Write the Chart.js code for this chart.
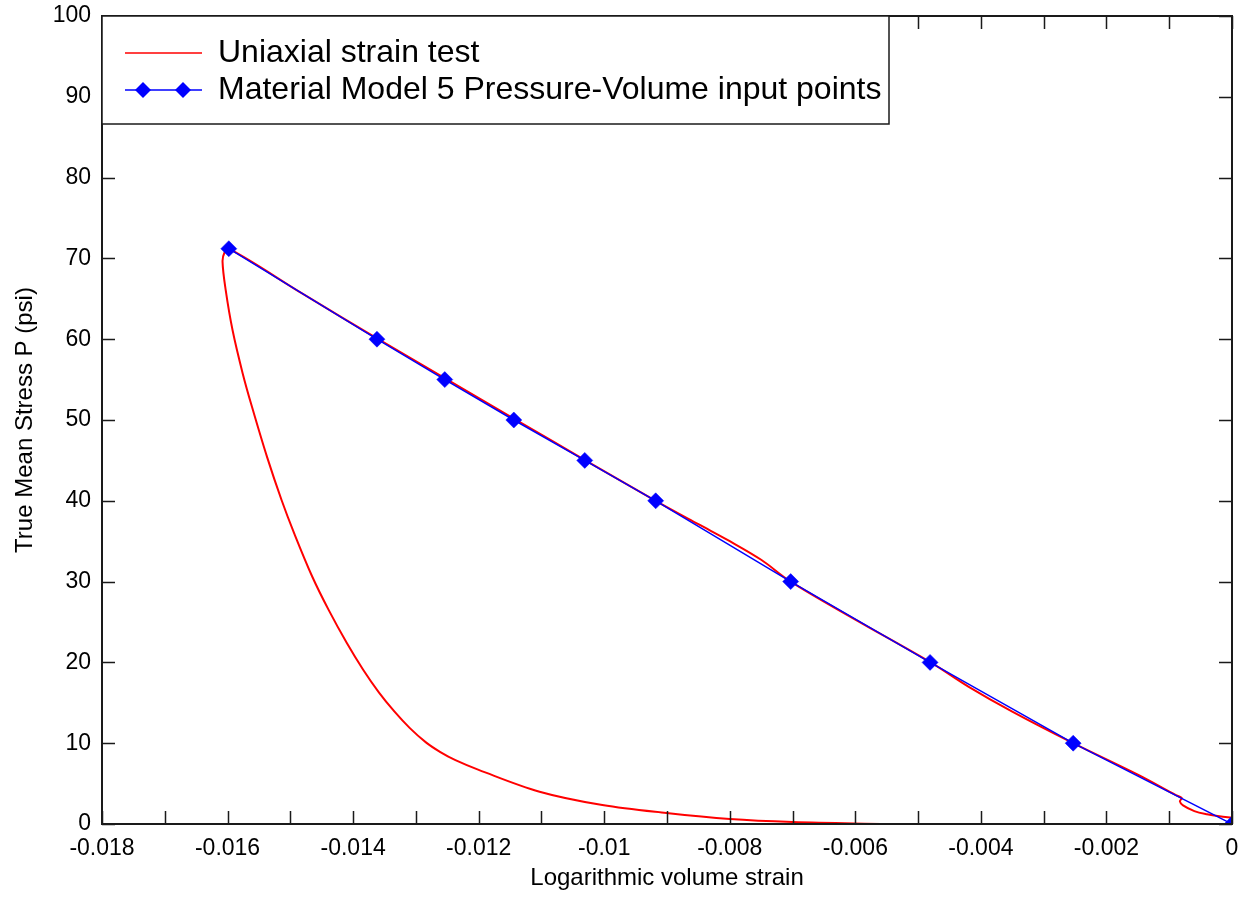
<!DOCTYPE html>
<html>
<head>
<meta charset="utf-8">
<script src="https://cdn.jsdelivr.net/npm/chart.js@4.4.1/dist/chart.umd.min.js"></script>
<style>
  html, body { margin: 0; padding: 0; background: #fff; }
</style>
</head>
<body>
<canvas id="pv" width="1248" height="897"></canvas>
<script>
// uniaxial strain test: loading branch then unloading branch
let testStrain = [0, -0.0002, -0.0004, -0.0006, -0.00078, -0.00083, -0.0008, -0.0009,
  -0.0015, -0.00253, -0.0035, -0.0042, -0.0048, -0.006, -0.00703, -0.0075, -0.008, -0.0085,
  -0.00918, -0.0103, -0.0114, -0.0125, -0.0136, -0.0148, -0.01598,
  -0.01605, -0.01608, -0.01603, -0.01592, -0.01576, -0.01561, -0.01537, -0.01514, -0.01494, -0.01465,
  -0.01439, -0.0141, -0.01384, -0.01359, -0.01334, -0.0131, -0.01284, -0.01261, -0.01237,
  -0.012, -0.01103, -0.01003, -0.00901, -0.008, -0.007, -0.0055];
let testStress = [0.8, 0.95, 1.2, 1.6, 2.3, 2.8, 3.2, 3.6,
  6.1, 10, 13.9, 17.0, 20, 25.3, 30, 32.7, 35.0, 37.1,
  40, 45, 50, 55, 60, 65.6, 71.2,
  70.7, 69.6, 66.1, 61.1, 55.8, 51.6, 45.4, 40.1, 36.0, 30.6,
  26.5, 22.4, 19.1, 16.3, 13.9, 11.9, 10.1, 8.9, 7.9,
  6.7, 4.0, 2.35, 1.36, 0.62, 0.25, 0];

// Material Model 5 pressure-volume input points
let modelStrain = [0, -0.00253, -0.00481, -0.00703, -0.00918, -0.01031, -0.01144, -0.01254, -0.01362, -0.01598];
let modelStress = [0, 10, 20, 30, 40, 45, 50, 55, 60, 71.2];

let xTicks = [-0.018, -0.016, -0.014, -0.012, -0.01, -0.008, -0.006, -0.004, -0.002, 0];
let yTicks = [0, 10, 20, 30, 40, 50, 60, 70, 80, 90, 100];

let fontName = '"Liberation Sans", Arial, sans-serif';

function pts(xs, ys) {
    return xs.map(function (x, i) { return {x: x, y: ys[i]}; });
}

// frame with inward ticks on all sides + legend box
let framePlugin = {
    id: 'frame',
    afterDraw: function (chart) {
        let ctx = chart.ctx;
        let a = chart.chartArea;
        let xs = chart.scales.x;
        let ys = chart.scales.y;
        ctx.save();
        ctx.strokeStyle = '#1a1a1a';
        ctx.lineWidth = 1.5;
        ctx.beginPath();
        for (let v = -0.018; v <= 0.00001; v += 0.001) {
            let px = Math.round(xs.getPixelForValue(v)) + 0.5;
            ctx.moveTo(px, a.bottom); ctx.lineTo(px, a.bottom - 13);
            ctx.moveTo(px, a.top); ctx.lineTo(px, a.top + 13);
        }
        yTicks.forEach(function (v) {
            let py = Math.round(ys.getPixelForValue(v)) + 0.5;
            ctx.moveTo(a.left, py); ctx.lineTo(a.left + 13, py);
            ctx.moveTo(a.right, py); ctx.lineTo(a.right - 13, py);
        });
        ctx.stroke();
        ctx.lineWidth = 2;
        ctx.strokeRect(a.left, a.top, a.right - a.left, a.bottom - a.top);

        // legend
        let lw = 787, lh = 108;
        ctx.fillStyle = '#fff';
        ctx.fillRect(a.left, a.top, lw, lh);
        ctx.lineWidth = 1.5;
        ctx.strokeRect(a.left, a.top, lw, lh);
        let y1 = a.top + 37, y2 = a.top + 74;
        ctx.strokeStyle = '#ff0000';
        ctx.lineWidth = 1.5;
        ctx.beginPath(); ctx.moveTo(a.left + 23, y1); ctx.lineTo(a.left + 100, y1); ctx.stroke();
        ctx.strokeStyle = '#0000ff';
        ctx.beginPath(); ctx.moveTo(a.left + 23, y2); ctx.lineTo(a.left + 100, y2); ctx.stroke();
        ctx.fillStyle = '#0000ff';
        [a.left + 41, a.left + 81].forEach(function (cx) {
            ctx.beginPath();
            ctx.moveTo(cx, y2 - 8); ctx.lineTo(cx + 8, y2); ctx.lineTo(cx, y2 + 8); ctx.lineTo(cx - 8, y2);
            ctx.closePath(); ctx.fill();
        });
        ctx.fillStyle = '#000';
        ctx.font = '32px ' + fontName;
        ctx.textBaseline = 'middle';
        ctx.fillText('Uniaxial strain test', a.left + 116, y1);
        ctx.fillText('Material Model 5 Pressure-Volume input points', a.left + 116, y2);
        ctx.restore();
    }
};

new Chart(document.getElementById('pv'), {
    type: 'scatter',
    data: {
        datasets: [{
            label: 'Uniaxial strain test',
            data: pts(testStrain, testStress),
            showLine: true,
            borderColor: '#ff0000',
            borderWidth: 2,
            pointRadius: 0,
            tension: 0.35,
            order: 2
        }, {
            label: 'Material Model 5 Pressure-Volume input points',
            data: pts(modelStrain, modelStress),
            showLine: true,
            borderColor: '#0000ff',
            backgroundColor: '#0000ff',
            borderWidth: 1.5,
            pointStyle: 'rectRot',
            pointRadius: 8,
            pointBorderWidth: 0.5,
            order: 1
        }]
    },
    options: {
        responsive: false,
        animation: false,
        layout: { padding: { top: 16, right: 16, left: 0, bottom: 0 } },
        plugins: { legend: { display: false }, tooltip: { enabled: false } },
        scales: {
            x: {
                type: 'linear',
                min: -0.018,
                max: 0,
                afterBuildTicks: function (s) { s.ticks = xTicks.map(function (v) { return {value: v}; }); },
                afterFit: function (s) { s.height = 73; s.paddingLeft = 0; s.paddingRight = 0; },
                ticks: {
                    color: '#000',
                    font: { family: fontName, size: 23 },
                    padding: 11,
                    maxRotation: 0,
                    callback: function (v) { let t = Number(v.toFixed(3)); return t === 0 ? '0' : String(t); }
                },
                grid: { display: false, drawTicks: false },
                border: { display: false },
                title: {
                    display: true,
                    text: 'Logarithmic volume strain',
                    color: '#000',
                    font: { family: fontName, size: 24 },
                    padding: { top: 0, bottom: 4 }
                }
            },
            y: {
                min: 0,
                max: 100,
                afterBuildTicks: function (s) { s.ticks = yTicks.map(function (v) { return {value: v}; }); },
                afterFit: function (s) { s.width = 102; s.paddingTop = 0; s.paddingBottom = 0; },
                ticks: {
                    color: '#000',
                    font: { family: fontName, size: 23 },
                    padding: 11
                },
                grid: { display: false, drawTicks: false },
                border: { display: false },
                title: {
                    display: true,
                    text: 'True Mean Stress P (psi)',
                    color: '#000',
                    font: { family: fontName, size: 24 },
                    padding: { top: 11, bottom: 0 }
                }
            }
        }
    },
    plugins: [framePlugin]
});
</script>
</body>
</html>
